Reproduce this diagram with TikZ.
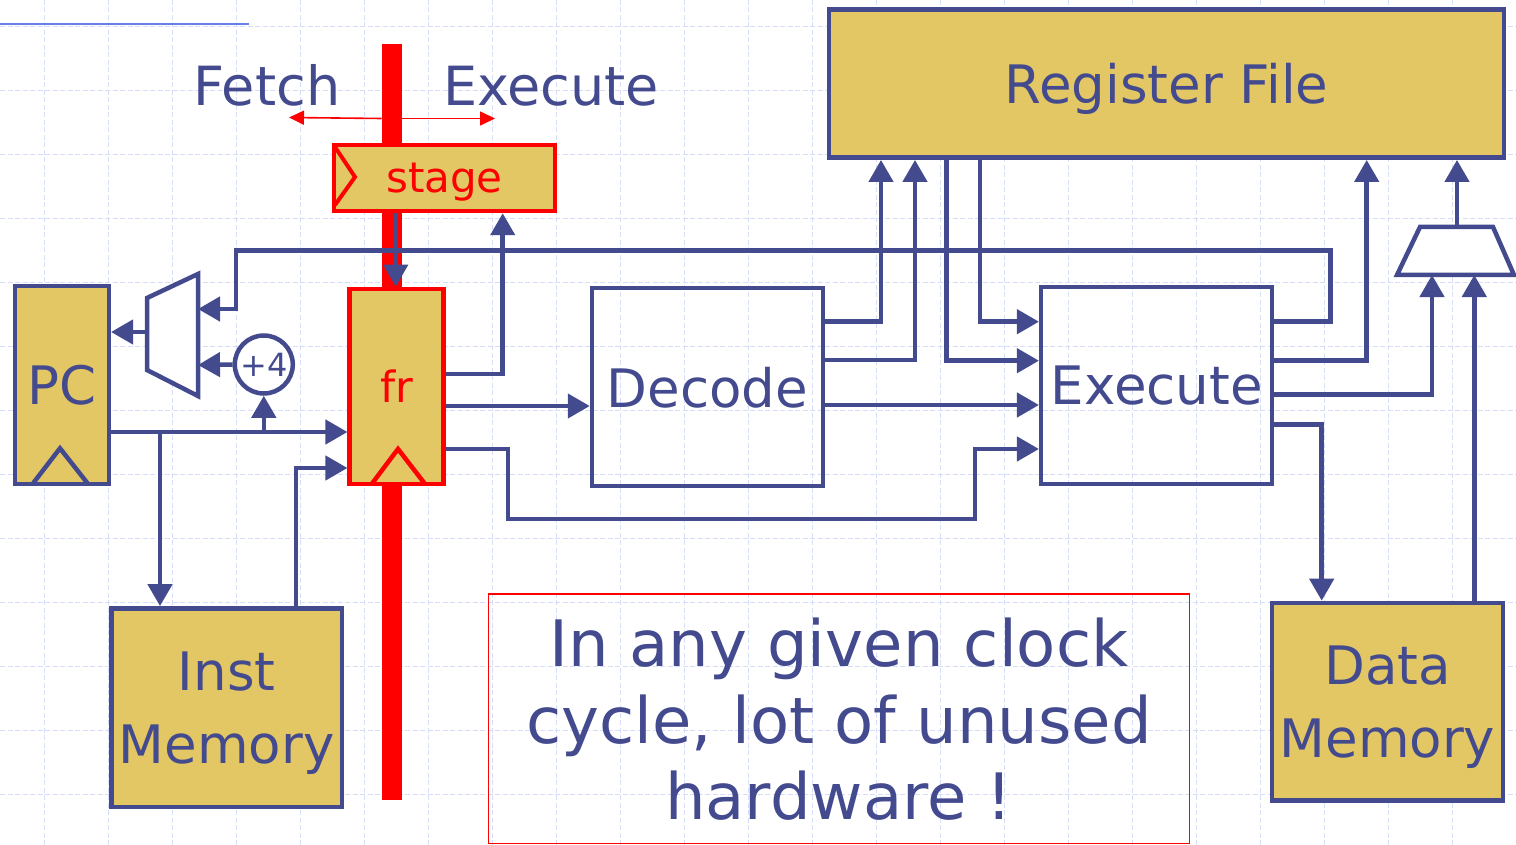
\documentclass[tikz,border=0pt]{standalone}
\usepackage{fontspec}
\setmainfont{DejaVu Sans}
\usetikzlibrary{arrows.meta}
\definecolor{blu}{HTML}{434A8E}
\definecolor{gold}{HTML}{E2C764}
\definecolor{grd}{HTML}{D5DDF9}
\definecolor{topline}{HTML}{6680E6}
\begin{document}
\begin{tikzpicture}[x=1pt,y=-1pt,
  wire/.style={draw=blu,line width=4.5pt},
  arr/.style={wire,-{Triangle[length=22pt,width=24pt]}},
  blk/.style={draw=blu,line width=4.5pt,fill=gold,inner sep=0pt,text=blu,text depth=0pt,align=center,font=\fontsize{53}{72.5}\selectfont},
  opn/.style={draw=blu,line width=4.5pt,inner sep=0pt,text=blu,text depth=0pt,font=\fontsize{53}{64}\selectfont},
  redbox/.style={draw=red,line width=4.5pt,fill=gold,inner sep=0pt,text=red,text depth=0pt},
  redarr/.style={draw=red,line width=1.6pt,-{Triangle[length=15pt,width=14pt]}},
  muxs/.style={draw=blu,line width=4.5pt,fill=white},
  gridln/.style={draw=grd,line width=1.3pt,dash pattern=on 5pt off 2.5pt},
  lbl/.style={text=blu,inner sep=0pt,text depth=0pt,font=\fontsize{54}{64}\selectfont}
]
\useasboundingbox (0,0) rectangle (1516,845);
\fill[white] (0,0) rectangle (1516,845);
\foreach \i in {0,...,23} \draw[gridln] ({44.3+64*\i},0) -- ({44.3+64*\i},845);
\foreach \j in {0,...,12} \draw[gridln] (0,{26.3+64*\j}) -- (1516,{26.3+64*\j});
\draw[topline,line width=1.7pt] (0,24) -- (249,24);

% pipeline bar
\fill[red] (381.5,44) rectangle (401.5,800);
\draw[redarr] (381.5,118.5) -- (289,117.5);
\draw[redarr] (401.5,118.5) -- (495,118.5);

\node[lbl] (fetch) at (267,85) {Fetch};
\node[lbl] (exe) at (551,86) {Execute};

% stage register
\node[redbox,minimum width=221pt,minimum height=66pt,font=\fontsize{42}{50}\selectfont] (stage) at (444.5,178) {stage};
\draw[red,line width=4pt] (335,147) -- (355,177) -- (335,205);

% fr register
\node[redbox,minimum width=94pt,minimum height=195pt,font=\fontsize{43}{50}\selectfont] (fr) at (396.7,386.5) {fr};
\draw[red,line width=4.5pt] (371.7,484) -- (398,449) -- (425,484);

% PC
\node[blk,minimum width=94pt,minimum height=198pt] (pc) at (61.8,385) {PC};
\draw[blu,line width=4.5pt] (33.3,483) -- (60,448.3) -- (87.3,483);

\node[blk,minimum width=230.7pt,minimum height=198.7pt] (imem) at (226.7,707.7) {Inst\\Memory};
\node[blk,minimum width=231pt,minimum height=197.5pt] (dm) at (1387.5,701.7) {Data\\Memory};
\node[blk,minimum width=675pt,minimum height=148pt] (rf) at (1166.6,83.7) {Register File};
\node[opn,minimum width=231pt,minimum height=198pt] (dec) at (707.5,387) {Decode};
\node[opn,minimum width=231pt,minimum height=197pt] (ex) at (1156.7,385.5) {Execute};
\node[circle,draw=blu,line width=4.5pt,fill=white,minimum size=58pt,inner sep=0pt,text=blu,text depth=0pt,font=\fontsize{32}{38}\selectfont] (p4) at (263.8,364.5) {+4};
\node[draw=red,line width=1.5pt,minimum width=701pt,minimum height=249.5pt,inner sep=0pt,text=blu,text depth=0pt,align=center,font=\fontsize{64}{76.7}\selectfont] (note) at (838.9,718.7) {In any given clock\\cycle, lot of unused\\hardware !};

% muxes
\draw[muxs] (147,298) -- (198,274) -- (198,396) -- (147,370) -- cycle;
\coordinate (mxo) at (147,332);
\coordinate (mxa) at (198,309);
\coordinate (mxb) at (198,365);
\draw[muxs] (1420,227) -- (1493,227) -- (1514,275) -- (1397,275) -- cycle;
\coordinate (m2o) at (1457,227);
\coordinate (m2a) at (1432,275);
\coordinate (m2b) at (1474.3,275);

% wires
\draw[arr] (mxo) -- (mxo -| pc.east);
\draw[arr] (p4.west) -- (mxb);
\draw[arr] (pc.east |- 0,432) -- (fr.west |- 0,432);
\coordinate (j1) at (160,432);
\draw[arr] (j1) -- (j1 |- imem.north);
\coordinate (j2) at (263.8,432);
\draw[arr] (j2) -- (p4.south);
\draw[arr] (imem.north -| 296,0) |- (fr.west |- 0,468);
\draw[arr] (stage.south -| 395.7,0) -- (fr.north -| 395.7,0);
\draw[arr] (fr.east |- 0,374) -| (stage.south -| 502.7,0);
\draw[arr] (fr.east |- 0,406) -- (dec.west |- 0,406);
\draw[arr] (fr.east |- 0,449) -- (508,449) |- (975,519) |- (ex.west |- 0,449);
\draw[arr] (dec.east |- 0,321.7) -| (rf.south -| 881,0);
\draw[arr] (dec.east |- 0,360) -| (rf.south -| 915,0);
\draw[arr] (dec.east |- 0,405) -- (ex.west |- 0,405);
\draw[arr] (rf.south -| 946.7,0) |- (ex.west |- 0,360.7);
\draw[arr] (rf.south -| 980,0) |- (ex.west |- 0,321.7);
\draw[arr] (ex.east |- 0,321.7) -- (1330.7,321.7) |- (236,250.7) |- (mxa);
\draw[arr] (ex.east |- 0,360.7) -| (rf.south -| 1366.7,0);
\draw[arr] (ex.east |- 0,394.3) -| (m2a);
\draw[arr] (ex.east |- 0,424.3) -| (dm.north -| 1321.7,0);
\draw[arr] (dm.north -| 1474.3,0) -- (m2b);
\draw[arr] (m2o) -- (rf.south -| 1457,0);
\end{tikzpicture}
\end{document}
